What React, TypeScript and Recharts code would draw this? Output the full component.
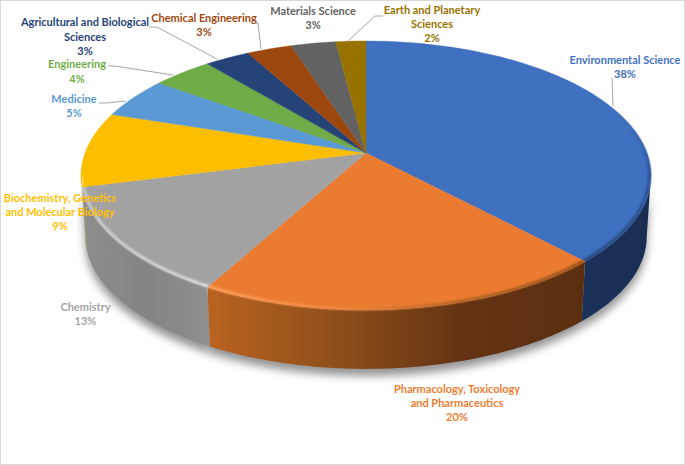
import React from "react";
import { PieChart, Pie } from "recharts";

const categories = [
  "Environmental Science",
  "Pharmacology, Toxicology and Pharmaceutics",
  "Chemistry",
  "Biochemistry, Genetics and Molecular Biology",
  "Medicine",
  "Engineering",
  "Agricultural and Biological Sciences",
  "Chemical Engineering",
  "Materials Science",
  "Earth and Planetary Sciences",
];
const shares = [38, 20, 13, 9, 5, 4, 3, 3, 3, 2];
const labelLines = [
  ["Environmental Science"],
  ["Pharmacology, Toxicology", "and Pharmaceutics"],
  ["Chemistry"],
  ["Biochemistry, Genetics", "and Molecular Biology"],
  ["Medicine"],
  ["Engineering"],
  ["Agricultural and Biological", "Sciences"],
  ["Chemical Engineering"],
  ["Materials Science"],
  ["Earth and Planetary", "Sciences"],
];
const rows = categories.map((name, i) => ({ name, value: shares[i] }));

// styles and layout, separate from the data
const labelColors = ["#4472c4", "#ed7d31", "#a5a5a5", "#ffc000", "#5b9bd5", "#70ad47", "#264478", "#9e480e", "#636363", "#997300"];
const topColors = ["#4070c0", "#ea7b30", "#a2a2a2", "#fdbe00", "#5a99d4", "#6fab46", "#254377", "#9c470e", "#626262", "#977200"];
const wallStops: string[][] = [
  ["#1b3158", "#1a2e52"],
  ["#ba6320", "#8f4f1a", "#653314", "#5a2f10"],
  ["#8e8e8e", "#848484", "#8f8f8f"],
  ["#c99700", "#c99700"],
];
// rim bevel: colour stops along x, and the clockwise angle where the bevel begins
const rimStops: string[][] = [
  ["#2d4f8c", "#23406f"],
  ["#ffa765", "#f08a42", "#a85f24", "#8a4a18"],
  ["#cfcfcf", "#e6e6e6"],
  ["#ffd75e", "#ffd75e"],
];
const rimFrom = [72, 0, 0, 0];
const labelSpots: [number, number][] = [
  [625, 60], [457, 389], [85.5, 307], [60, 198], [74, 99],
  [77, 64.5], [85, 22.5], [204, 18], [313, 11], [432, 10],
];
const leaders: ([number, number][] | null)[] = [
  [[612, 78], [613, 106]],
  null,
  null,
  null,
  [[99, 103], [106, 103], [126, 101]],
  [[108, 66], [115, 66], [173, 75]],
  [[149, 27], [157, 27], [217, 59]],
  [[256, 23], [258, 23], [261, 49]],
  null,
  [[383, 16], [375, 16], [348, 41]],
];

const FONT = "Lato, Carlito, Calibri, sans-serif";
const SX = 281;
const SY = 130.7;
const PERSP = 0.167;
const DEPTH = 61;
const FLOOR_SCALE = 0.985;
const VIS_FROM = 99.6;
const VIS_TO = 260.4;

type Pt = [number, number];
const rad = (d: number) => (d * Math.PI) / 180;

const rim = (cx: number, cy: number, t: number): Pt => {
  const u = Math.sin(rad(t));
  const v = Math.cos(rad(t));
  const w = 1 + PERSP * v;
  return [cx + (SX * u) / w, cy - (SY * v) / w];
};
const inner = (cx: number, cy: number, t: number): Pt => {
  const [x, y] = rim(cx, cy, t);
  return [cx + (x - cx) * 0.994, cy + (y - cy) * 0.994];
};
const floor = (cx: number, cy: number, t: number): Pt => {
  const [x, y] = rim(cx, cy, t);
  const midY = cy + 22;
  return [cx + (x - cx) * FLOOR_SCALE, midY + (y - midY) * FLOOR_SCALE + DEPTH];
};
const sample = (from: number, to: number, fn: (t: number) => Pt): Pt[] => {
  const n = Math.max(2, Math.ceil(Math.abs(to - from) / 1.5));
  const out: Pt[] = [];
  for (let i = 0; i <= n; i++) out.push(fn(from + ((to - from) * i) / n));
  return out;
};
const toD = (pts: Pt[]) => pts.map((p, i) => `${i ? "L" : "M"}${p[0].toFixed(2)} ${p[1].toFixed(2)}`).join(" ");

const wallPath = (props: any) => {
  const { cx, cy, startAngle, endAngle } = props;
  const from = Math.max(90 - startAngle, VIS_FROM);
  const to = Math.min(90 - endAngle, VIS_TO);
  if (to <= from) return null;
  const upper = sample(from, to, (t) => rim(cx, cy, t));
  const lower = sample(from, to, (t) => floor(cx, cy, t)).reverse();
  return `${toD(upper)} ${toD(lower).replace("M", "L")} Z`;
};

const TopFace = (props: any) => {
  const { cx, cy, startAngle, endAngle, index } = props;
  const a = 90 - startAngle;
  const b = 90 - endAngle;
  const arc = sample(a, b, (t) => rim(cx, cy, t));
  const d = `M${cx} ${cy} ${toD(arc).replace("M", "L")} Z`;
  const from = Math.max(a, rimFrom[index] || VIS_FROM);
  const to = Math.min(b, VIS_TO);
  return (
    <g>
      <path d={d} fill={topColors[index]} stroke={topColors[index]} strokeWidth={0.4} />
      {to > from && rimStops[index] ? (
        <path
          d={toD(sample(from, to, (t) => inner(cx, cy, t)))}
          fill="none"
          stroke={`url(#rim${index})`}
          strokeWidth={2.6}
          filter="url(#soft)"
        />
      ) : null}
    </g>
  );
};

const Shadow = (props: any) => {
  const d = wallPath(props);
  if (!d) return <g />;
  return <path d={d} fill="#000" fillOpacity={0.42} transform="translate(0 7)" filter="url(#shade)" />;
};

const Wall = (props: any) => {
  const d = wallPath(props);
  if (!d) return <g />;
  return <path d={d} fill={`url(#wall${props.index})`} />;
};

const SliceLabel = (props: any) => {
  const { index } = props;
  const [x, y0] = labelSpots[index];
  const lines = [...labelLines[index], `${shares[index]}%`];
  const leader = leaders[index];
  return (
    <g>
      {leader ? <polyline points={leader.map((p) => p.join(",")).join(" ")} fill="none" stroke="#a6a6a6" strokeWidth={1} /> : null}
      <text textAnchor="middle" fontFamily={FONT} fontSize={11} fontWeight={700} fill={labelColors[index]}>
        {lines.map((line, i) => (
          <tspan key={i} x={x} y={y0 + i * 14.3} dy="0.35em">
            {line}
          </tspan>
        ))}
      </text>
    </g>
  );
};

const common = {
  data: rows,
  dataKey: "value",
  nameKey: "name",
  cx: 366,
  cy: 153,
  outerRadius: 100,
  startAngle: 90,
  endAngle: -270,
  stroke: "none",
  isAnimationActive: false,
  legendType: "none" as const,
};

export default function App() {
  return (
    <div
      style={{
        position: "absolute",
        left: 0,
        top: 0,
        width: 685,
        height: 465,
        background: "#fff",
        overflow: "hidden",
      }}
    >
      <PieChart width={685} height={465} margin={{ top: 0, right: 0, bottom: 0, left: 0 }}>
        <defs>
          <filter id="soft" x="-10%" y="-10%" width="120%" height="120%">
            <feGaussianBlur stdDeviation="0.9" />
          </filter>
          <filter id="shade" x="-30%" y="-30%" width="160%" height="160%">
            <feGaussianBlur stdDeviation="4" />
          </filter>
          {wallStops.map((stops, i) => (
            <linearGradient key={i} id={`wall${i}`} x1="0" y1="0" x2="1" y2="0">
              {stops.map((c, j) => (
                <stop key={j} offset={j / (stops.length - 1)} stopColor={c} />
              ))}
            </linearGradient>
          ))}
          {rimStops.map((stops, i) => (
            <linearGradient key={i} id={`rim${i}`} x1="0" y1="0" x2={i === 0 ? "0" : "1"} y2={i === 0 ? "1" : "0"}>
              {i === 0 ? <stop offset={0} stopColor={stops[0]} stopOpacity={0} /> : null}
              {stops.map((c, j) => (
                <stop key={j} offset={i === 0 ? 0.4 + 0.6 * j : j / (stops.length - 1)} stopColor={c} />
              ))}
            </linearGradient>
          ))}
        </defs>
        <Pie {...common} shape={Shadow} />
        <Pie {...common} shape={Wall} />
        <Pie {...common} shape={TopFace} label={SliceLabel} labelLine={false} />
      </PieChart>
      <div
        style={{
          position: "absolute",
          left: 0,
          top: 0,
          width: 684.5,
          height: 465,
          boxSizing: "border-box",
          border: "1.5px solid #d9d9d9",
          pointerEvents: "none",
        }}
      />
    </div>
  );
}
